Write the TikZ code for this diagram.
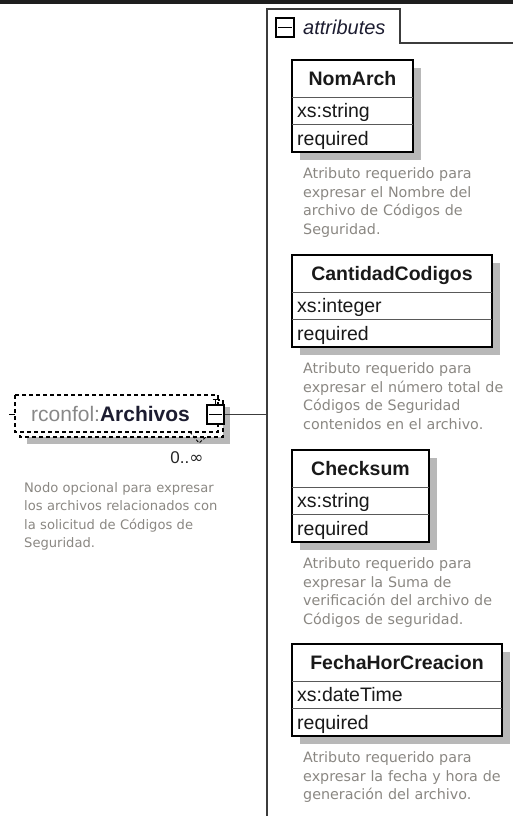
\documentclass[tikz,border=0pt]{standalone}
\usepackage{fontspec}
\setmainfont{Liberation Sans}
\newfontfamily\descfont{DejaVu Sans}
\usetikzlibrary{positioning}
\definecolor{bandgray}{HTML}{1E1E1E}
\definecolor{framegray}{HTML}{3C3C3C}
\definecolor{shadegray}{HTML}{B8B8B8}
\definecolor{descgray}{HTML}{8A8782}
\definecolor{nsgray}{HTML}{888888}
\definecolor{namenavy}{HTML}{1C1C30}

\begin{document}
\begin{tikzpicture}[x=1pt,y=-1pt,
  boxline/.style={line width=1.6pt,draw=black},
  rowline/.style={line width=0.8pt,draw=black!65},
  titletxt/.style={font=\fontsize{19.5}{22}\selectfont\bfseries,text=black!90,inner sep=0,anchor=base},
  rowtxt/.style={font=\fontsize{19.5}{22}\selectfont,text=black!90,inner sep=0,anchor=base west},
  desctxt/.style={font=\descfont\fontsize{14.3}{18.7}\selectfont,text=descgray,inner sep=0,anchor=base west,text width=215pt,align=left},
  iconbox/.style={draw=black,line width=1.2pt,fill=white,minimum width=17pt,minimum height=19pt,inner sep=0}]
  \useasboundingbox (0,0) rectangle (513,816);
  % banda superior
  \fill[bandgray] (0,0) rectangle (513,4);

  % contenedor de atributos
  \draw[framegray,line width=1.6pt] (267,816) -- (267,9) -- (400,9) -- (400,43) -- (513,43);
  \node[iconbox,minimum width=18pt] (tabIcon) at (285,27.5) {};
  \draw[line width=1.4pt] ([xshift=3pt]tabIcon.west) -- ([xshift=-3pt]tabIcon.east);
  \node[font=\fontsize{20}{22}\selectfont\itshape,text=namenavy,inner sep=0,anchor=west] (tabLabel) at (303,27) {attributes};

  % elemento rconfol:Archivos
  \fill[shadegray] (27,407) rectangle (230,444);
  \draw[dashed,line width=1.1pt,dash pattern=on 4pt off 3pt,fill=white] (20,400) rectangle (223,437);
  \draw[dashed,line width=1.1pt,dash pattern=on 4pt off 3pt,fill=white] (15,395) rectangle (218,432);
  \draw[dashed,line width=0.9pt,dash pattern=on 3pt off 2pt] (190,432) -- (199,443) -- (206,437);
  \draw[line width=1pt] (9,414) -- (15,414);
  \node[inner sep=0,anchor=west,font=\fontsize{21}{23}\selectfont] (archName) at (31,414)
    {\textcolor{nsgray}{rconfol:}\textcolor{namenavy}{\bfseries Archivos}};
  \node[iconbox] (archIcon) at (215.5,414.5) {};
  \draw[line width=1.2pt] ([xshift=3pt]archIcon.west) -- ([xshift=-3pt]archIcon.east);
  \draw[line width=1pt] (archIcon.north) -- ++(0,-5) ++(-3,0) -- ++(6,0);
  \coordinate (attrIn) at (267,414.5);
  \draw[framegray,line width=1.4pt] (archIcon.east) -- (attrIn);
  \node[inner sep=0,font=\fontsize{17}{20}\selectfont,text=black!85] (archOcc) at (187,458) {0..\descfont ∞};
  \node[desctxt,font=\descfont\fontsize{13.1}{18.4}\selectfont] (archDesc) at (24,492.5) {Nodo opcional para expresar\\los archivos relacionados con\\la solicitud de Códigos de\\Seguridad.};

  % NomArch
  \begin{scope}[shift={(0,60)}]
    \fill[shadegray] (300,8) rectangle (421,100);
    \draw[boxline,fill=white] (292,0) rectangle (413,92);
    \draw[rowline] (292,37) -- (413,37) (292,64) -- (413,64);
    \node[titletxt] (nomTitle) at (352.5,25.5) {NomArch};
    \node[rowtxt] (nomType) at (297,57.5) {xs:string};
    \node[rowtxt] (nomUse) at (297,85) {required};
    \node[desctxt] (nomDesc) at (303,118.5) {Atributo requerido para\\expresar el Nombre del\\archivo de Códigos de\\Seguridad.};
  \end{scope}

  % CantidadCodigos
  \begin{scope}[shift={(0,255)}]
    \fill[shadegray] (300,8) rectangle (500,100);
    \draw[boxline,fill=white] (292,0) rectangle (492,92);
    \draw[rowline] (292,37) -- (492,37) (292,64) -- (492,64);
    \node[titletxt] (cantTitle) at (392,25.5) {CantidadCodigos};
    \node[rowtxt] (cantType) at (297,57.5) {xs:integer};
    \node[rowtxt] (cantUse) at (297,85) {required};
    \node[desctxt] (cantDesc) at (303,118.5) {Atributo requerido para\\expresar el número total de\\Códigos de Seguridad\\contenidos en el archivo.};
  \end{scope}

  % Checksum
  \begin{scope}[shift={(0,450)}]
    \fill[shadegray] (300,8) rectangle (437,100);
    \draw[boxline,fill=white] (292,0) rectangle (429,92);
    \draw[rowline] (292,37) -- (429,37) (292,64) -- (429,64);
    \node[titletxt] (chkTitle) at (360.5,25.5) {Checksum};
    \node[rowtxt] (chkType) at (297,57.5) {xs:string};
    \node[rowtxt] (chkUse) at (297,85) {required};
    \node[desctxt] (chkDesc) at (303,118.5) {Atributo requerido para\\expresar la Suma de\\verificación del archivo de\\Códigos de seguridad.};
  \end{scope}

  % FechaHorCreacion
  \begin{scope}[shift={(0,644)}]
    \fill[shadegray] (300,8) rectangle (510,100);
    \draw[boxline,fill=white] (292,0) rectangle (502,92);
    \draw[rowline] (292,37) -- (502,37) (292,64) -- (502,64);
    \node[titletxt] (fecTitle) at (397,25.5) {FechaHorCreacion};
    \node[rowtxt] (fecType) at (297,57.5) {xs:dateTime};
    \node[rowtxt] (fecUse) at (297,85) {required};
    \node[desctxt] (fecDesc) at (303,118.5) {Atributo requerido para\\expresar la fecha y hora de\\generación del archivo.};
  \end{scope}
\end{tikzpicture}
\end{document}
